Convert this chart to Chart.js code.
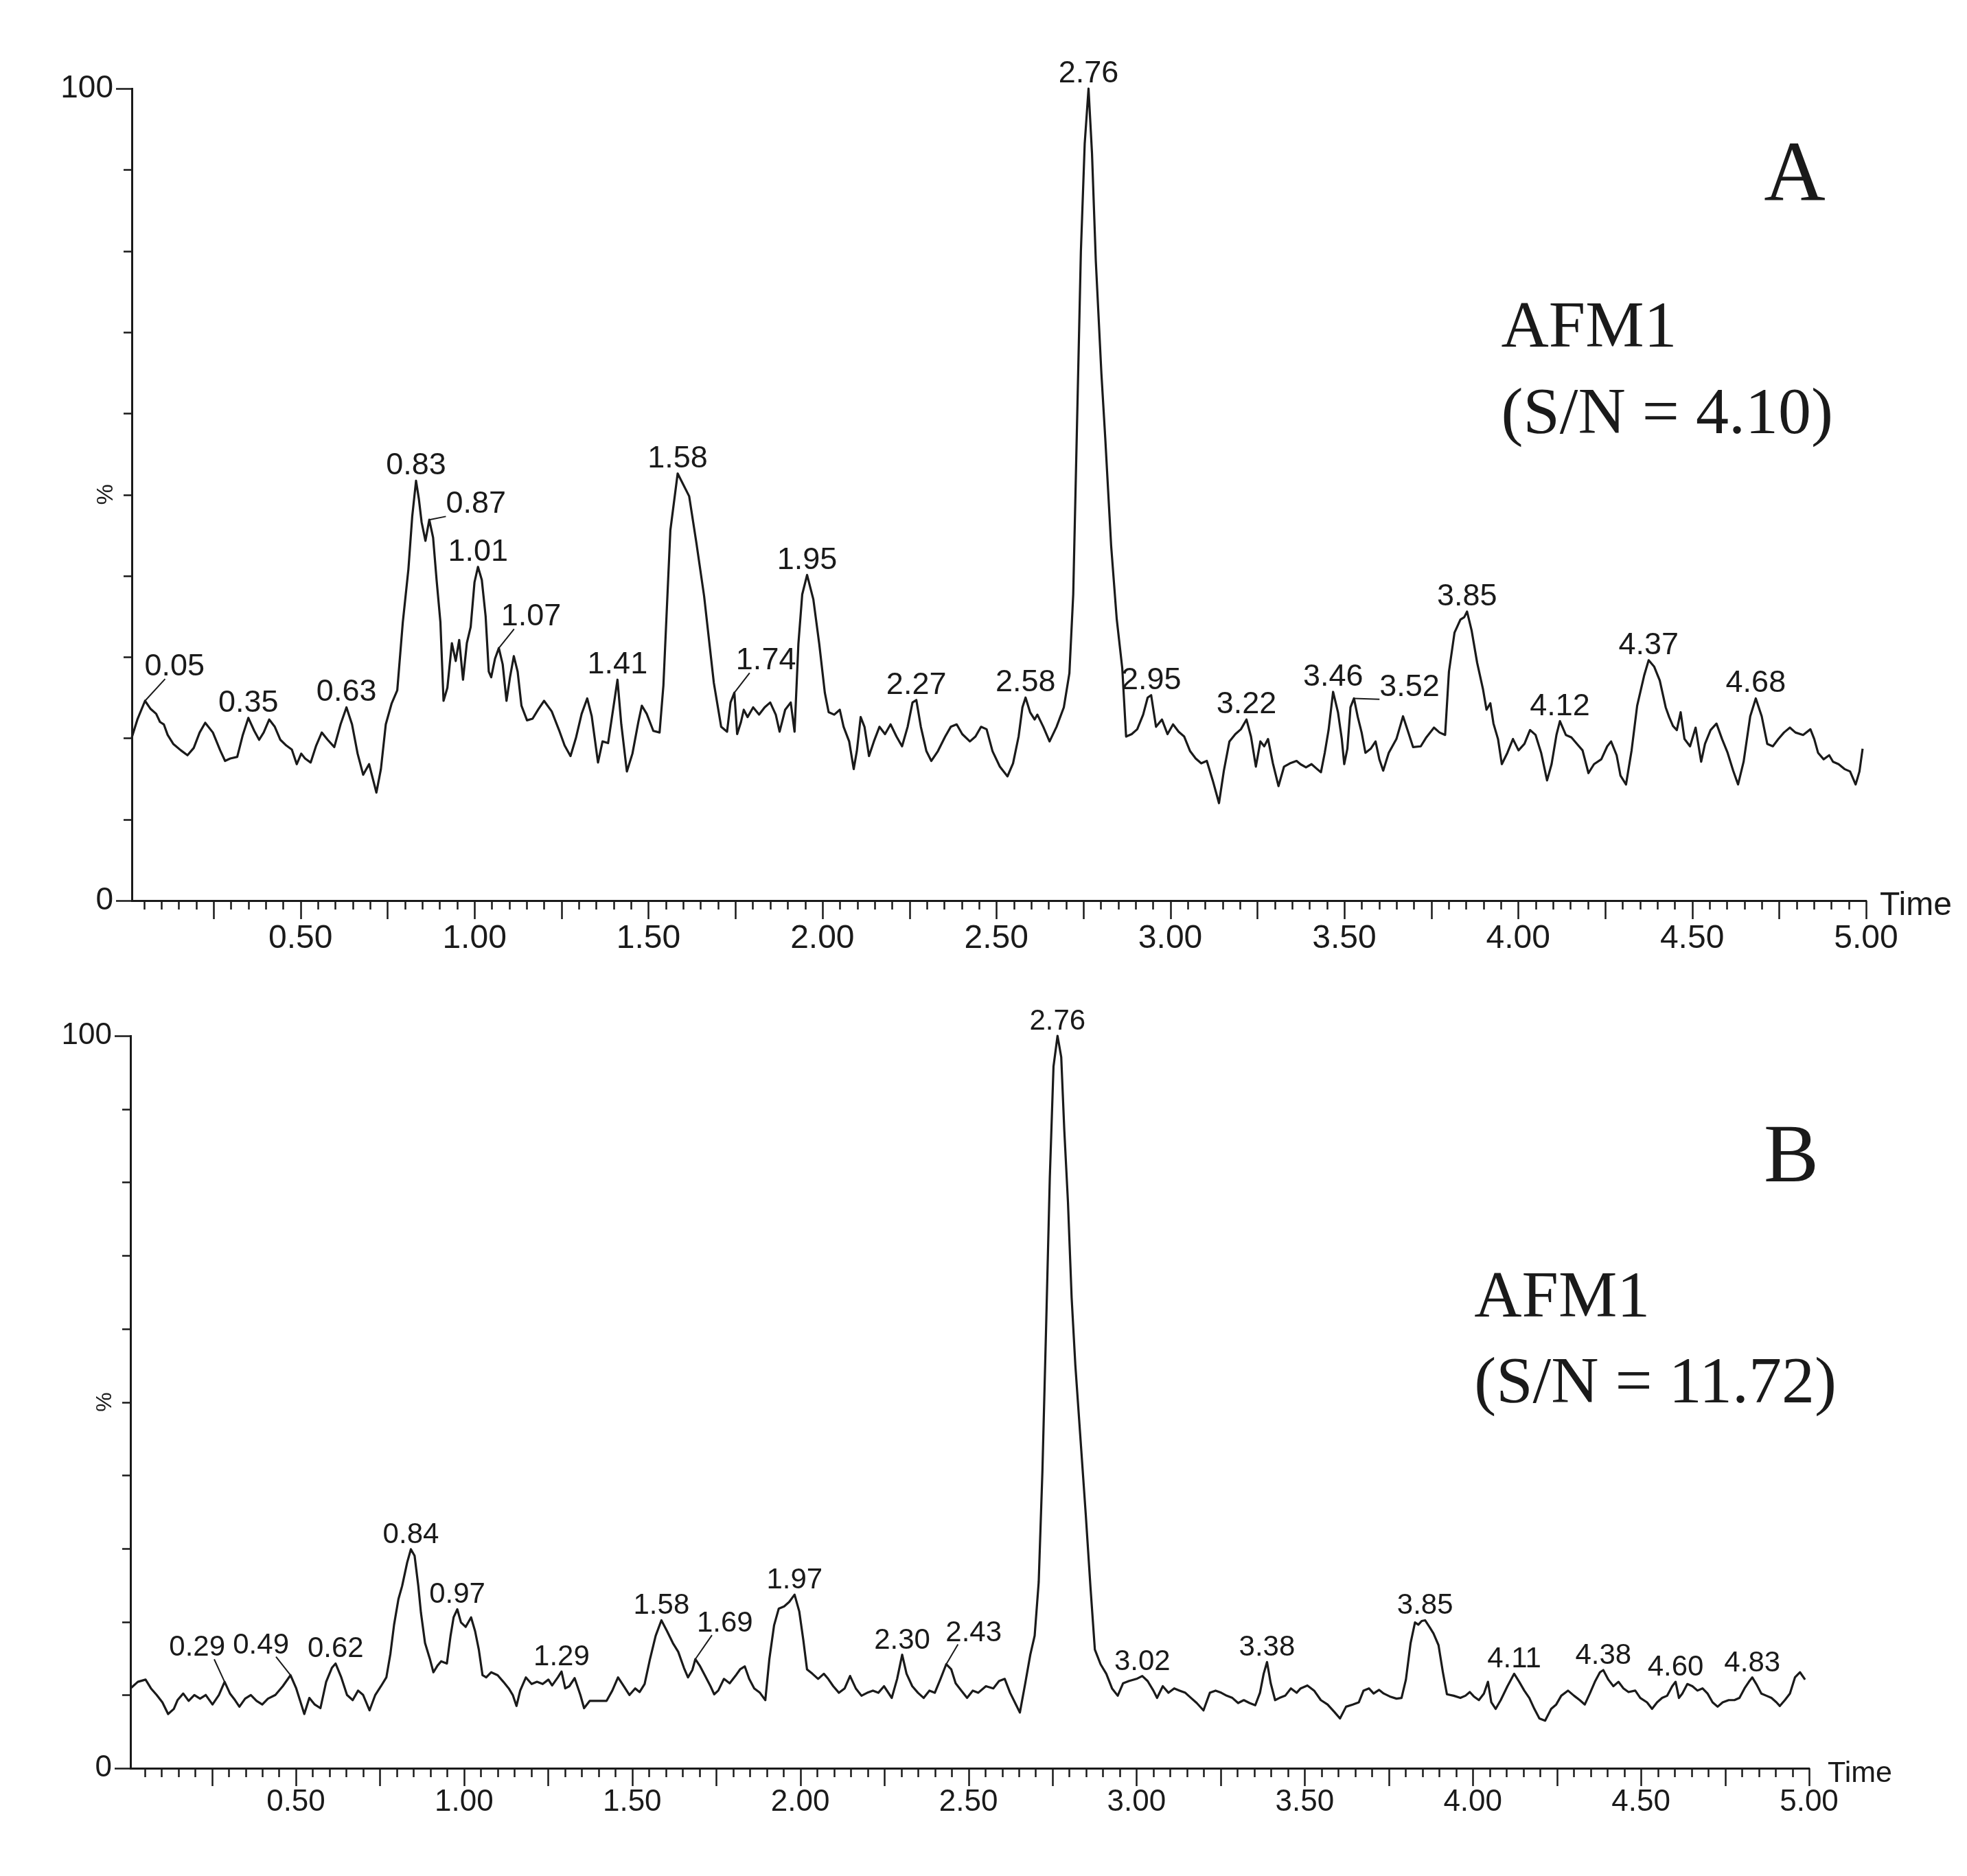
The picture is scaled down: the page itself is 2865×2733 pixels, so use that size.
<!DOCTYPE html>
<html>
<head>
<meta charset="utf-8">
<title>AFM1 chromatograms</title>
<script src="https://cdn.jsdelivr.net/npm/chart.js@4.4.1/dist/chart.umd.min.js"></script>
<style>
  html, body { margin: 0; padding: 0; background: #fff; }
  body { width: 2865px; height: 2733px; position: relative; overflow: hidden; }
  .panel { position: absolute; left: 0; width: 2865px; }
  #panelA { top: 0; height: 1400px; }
  #panelB { top: 1400px; height: 1333px; }
</style>
</head>
<body>
<div class="panel" id="panelA"><canvas id="chartA"></canvas></div>
<div class="panel" id="panelB"><canvas id="chartB"></canvas></div>
<script>
// chromatogram A (time in min, intensity in %)
const timesA = [
  0.015, 0.031, 0.053, 0.069, 0.085, 0.096, 0.107, 0.118, 0.134, 0.156, 0.175, 0.193, 0.210, 0.226, 0.248,
  0.269, 0.283, 0.298, 0.318, 0.334, 0.350, 0.367, 0.381, 0.394, 0.410, 0.426, 0.442, 0.459, 0.475, 0.489,
  0.502, 0.513, 0.529, 0.545, 0.561, 0.578, 0.597, 0.615, 0.632, 0.648, 0.664, 0.680, 0.697, 0.718, 0.731,
  0.745, 0.762, 0.778, 0.794, 0.810, 0.821, 0.832, 0.840, 0.848, 0.859, 0.870, 0.881, 0.891, 0.902, 0.911,
  0.922, 0.935, 0.946, 0.956, 0.967, 0.978, 0.989, 1.000, 1.010, 1.021, 1.032, 1.041, 1.048, 1.059, 1.070,
  1.081, 1.092, 1.102, 1.113, 1.124, 1.135, 1.151, 1.167, 1.184, 1.200, 1.222, 1.243, 1.259, 1.276, 1.292,
  1.308, 1.324, 1.337, 1.355, 1.368, 1.384, 1.400, 1.411, 1.422, 1.438, 1.454, 1.471, 1.481, 1.495, 1.514,
  1.532, 1.543, 1.563, 1.584, 1.617, 1.638, 1.660, 1.688, 1.709, 1.726, 1.736, 1.747, 1.755, 1.766, 1.774,
  1.785, 1.801, 1.818, 1.834, 1.850, 1.866, 1.877, 1.893, 1.909, 1.920, 1.931, 1.942, 1.956, 1.974, 1.991,
  2.007, 2.018, 2.034, 2.050, 2.061, 2.077, 2.090, 2.099, 2.110, 2.121, 2.134, 2.148, 2.164, 2.180, 2.196,
  2.213, 2.229, 2.245, 2.259, 2.270, 2.283, 2.299, 2.313, 2.332, 2.353, 2.369, 2.386, 2.402, 2.424, 2.440,
  2.456, 2.472, 2.489, 2.510, 2.532, 2.548, 2.564, 2.575, 2.584, 2.597, 2.610, 2.618, 2.635, 2.653, 2.673,
  2.694, 2.710, 2.721, 2.732, 2.743, 2.754, 2.765, 2.775, 2.786, 2.802, 2.813, 2.830, 2.846, 2.862, 2.873,
  2.889, 2.905, 2.922, 2.935, 2.945, 2.959, 2.976, 2.992, 3.008, 3.024, 3.040, 3.057, 3.073, 3.089, 3.105,
  3.122, 3.140, 3.154, 3.170, 3.187, 3.203, 3.219, 3.232, 3.246, 3.259, 3.270, 3.281, 3.295, 3.311, 3.327,
  3.344, 3.363, 3.374, 3.390, 3.406, 3.422, 3.433, 3.444, 3.455, 3.468, 3.482, 3.493, 3.500, 3.509, 3.518,
  3.528, 3.539, 3.550, 3.561, 3.576, 3.590, 3.601, 3.612, 3.628, 3.650, 3.669, 3.682, 3.698, 3.720, 3.736,
  3.758, 3.774, 3.790, 3.801, 3.817, 3.834, 3.845, 3.853, 3.866, 3.882, 3.899, 3.909, 3.920, 3.929, 3.942,
  3.953, 3.969, 3.985, 4.001, 4.018, 4.034, 4.050, 4.066, 4.083, 4.096, 4.110, 4.120, 4.137, 4.153, 4.169,
  4.185, 4.202, 4.218, 4.239, 4.256, 4.267, 4.283, 4.294, 4.310, 4.326, 4.342, 4.362, 4.375, 4.391, 4.407,
  4.424, 4.434, 4.445, 4.456, 4.467, 4.478, 4.494, 4.510, 4.526, 4.537, 4.553, 4.570, 4.586, 4.602, 4.618,
  4.632, 4.648, 4.667, 4.683, 4.700, 4.716, 4.732, 4.748, 4.764, 4.781, 4.797, 4.819, 4.840, 4.851, 4.862,
  4.878, 4.894, 4.905, 4.921, 4.938, 4.954, 4.970, 4.981, 4.990
];
const valuesA = [
  20.1, 22.3, 24.6, 23.6, 23.0, 22.0, 21.7, 20.4, 19.3, 18.5, 17.9, 18.8, 20.7, 21.9, 20.7,
  18.5, 17.2, 17.5, 17.7, 20.4, 22.5, 20.9, 19.8, 20.7, 22.3, 21.4, 19.8, 19.1, 18.6, 16.8,
  18.1, 17.5, 17.0, 19.1, 20.7, 19.8, 18.9, 21.7, 23.8, 21.7, 18.1, 15.5, 16.8, 13.3, 16.2,
  21.7, 24.3, 25.9, 34.3, 40.8, 47.3, 51.7, 49.5, 46.6, 44.3, 46.9, 44.7, 39.5, 34.3, 24.6,
  26.2, 31.7, 29.5, 32.1, 27.2, 31.7, 33.7, 39.2, 41.1, 39.5, 35.0, 28.2, 27.5, 29.8, 31.1,
  29.1, 24.6, 27.5, 30.1, 28.2, 24.0, 22.2, 22.4, 23.6, 24.6, 23.3, 21.0, 19.1, 17.8, 20.1,
  23.0, 24.9, 22.7, 17.0, 19.6, 19.4, 24.0, 27.2, 21.7, 15.9, 18.1, 22.0, 24.0, 23.0, 20.9,
  20.7, 26.5, 45.6, 52.6, 49.8, 44.0, 37.5, 26.8, 21.4, 20.8, 24.4, 25.6, 20.5, 22.0, 23.5,
  22.6, 23.8, 22.9, 23.8, 24.4, 22.9, 20.8, 23.5, 24.4, 20.8, 31.6, 37.7, 40.1, 37.1, 31.6,
  25.6, 23.2, 22.9, 23.5, 21.4, 19.6, 16.2, 18.4, 22.6, 21.4, 17.8, 19.6, 21.4, 20.5, 21.7,
  20.2, 19.0, 21.4, 24.4, 24.7, 21.4, 18.4, 17.2, 18.4, 20.2, 21.4, 21.7, 20.5, 19.6, 20.2,
  21.4, 21.1, 18.4, 16.5, 15.3, 16.9, 20.2, 23.8, 25.0, 23.2, 22.3, 22.9, 21.4, 19.6, 21.4,
  23.8, 28.0, 37.7, 58.8, 79.9, 93.2, 100, 92.0, 78.7, 64.9, 57.0, 43.7, 34.7, 28.6, 20.2,
  20.5, 21.1, 22.9, 25.0, 25.3, 21.4, 22.3, 20.5, 21.7, 20.8, 20.2, 18.4, 17.5, 16.9, 17.2,
  14.8, 12.0, 16.0, 19.6, 20.5, 21.1, 22.3, 20.2, 16.5, 19.6, 19.0, 19.9, 16.9, 14.1, 16.5,
  16.9, 17.2, 16.8, 16.4, 16.8, 16.2, 15.8, 18.2, 21.0, 25.7, 23.2, 19.9, 16.8, 18.7, 23.8,
  24.9, 22.6, 20.7, 18.2, 18.7, 19.6, 17.4, 16.0, 18.2, 19.9, 22.7, 21.0, 18.9, 19.0, 20.1,
  21.3, 20.7, 20.4, 28.2, 33.0, 34.6, 34.9, 35.6, 33.3, 29.3, 26.0, 23.5, 24.3, 21.8, 19.9,
  16.8, 18.2, 19.9, 18.5, 19.3, 21.0, 20.4, 18.2, 14.8, 16.8, 20.4, 22.1, 20.4, 20.1, 19.3,
  18.5, 15.7, 16.8, 17.4, 19.0, 19.6, 17.9, 15.4, 14.3, 18.5, 24.0, 27.7, 29.6, 28.8, 27.1,
  23.8, 22.6, 21.5, 21.0, 23.2, 19.9, 19.0, 21.3, 17.1, 19.3, 21.0, 21.8, 19.9, 18.2, 16.0,
  14.3, 17.1, 22.7, 24.9, 22.7, 19.3, 19.0, 19.9, 20.7, 21.3, 20.7, 20.4, 21.1, 19.9, 18.2,
  17.4, 17.9, 17.1, 16.8, 16.2, 15.9, 14.3, 15.9, 18.7
];
const peakLabelsA = [
  "0.05", "0.35", "0.63", "0.83", "0.87", "1.01", "1.07", "1.41", "1.58", "1.74", "1.95",
  "2.27", "2.58", "2.76", "2.95", "3.22", "3.46", "3.52", "3.85", "4.12", "4.37", "4.68"
];

// chromatogram B
const timesB = [
  0.008, 0.030, 0.053, 0.069, 0.086, 0.103, 0.120, 0.137, 0.148, 0.165, 0.181, 0.198, 0.215, 0.232, 0.252,
  0.271, 0.288, 0.304, 0.319, 0.332, 0.349, 0.366, 0.383, 0.400, 0.417, 0.439, 0.461, 0.484, 0.501, 0.512,
  0.525, 0.540, 0.556, 0.573, 0.590, 0.607, 0.618, 0.635, 0.652, 0.669, 0.685, 0.700, 0.719, 0.736, 0.753,
  0.769, 0.781, 0.792, 0.805, 0.816, 0.831, 0.842, 0.853, 0.864, 0.872, 0.884, 0.898, 0.909, 0.921, 0.932,
  0.949, 0.960, 0.969, 0.980, 0.991, 1.005, 1.021, 1.033, 1.044, 1.055, 1.066, 1.081, 1.100, 1.117, 1.133,
  1.145, 1.156, 1.167, 1.184, 1.201, 1.217, 1.234, 1.251, 1.262, 1.279, 1.290, 1.301, 1.313, 1.329, 1.346,
  1.357, 1.374, 1.397, 1.424, 1.441, 1.458, 1.475, 1.492, 1.509, 1.522, 1.537, 1.553, 1.570, 1.587, 1.604,
  1.621, 1.637, 1.654, 1.666, 1.679, 1.688, 1.701, 1.716, 1.733, 1.744, 1.756, 1.773, 1.790, 1.807, 1.821,
  1.835, 1.848, 1.863, 1.880, 1.896, 1.908, 1.922, 1.936, 1.952, 1.967, 1.983, 1.997, 2.009, 2.020, 2.036,
  2.053, 2.070, 2.083, 2.098, 2.115, 2.132, 2.148, 2.165, 2.182, 2.199, 2.216, 2.232, 2.249, 2.272, 2.288,
  2.303, 2.316, 2.333, 2.350, 2.367, 2.384, 2.400, 2.417, 2.434, 2.449, 2.462, 2.479, 2.496, 2.513, 2.529,
  2.552, 2.574, 2.591, 2.608, 2.624, 2.639, 2.653, 2.669, 2.684, 2.697, 2.709, 2.720, 2.731, 2.742, 2.753,
  2.765, 2.776, 2.785, 2.796, 2.807, 2.818, 2.832, 2.849, 2.863, 2.876, 2.893, 2.910, 2.927, 2.944, 2.960,
  2.977, 3.000, 3.017, 3.033, 3.050, 3.061, 3.078, 3.095, 3.112, 3.128, 3.145, 3.162, 3.179, 3.199, 3.218,
  3.235, 3.252, 3.268, 3.285, 3.302, 3.319, 3.336, 3.353, 3.367, 3.378, 3.388, 3.399, 3.412, 3.425, 3.442,
  3.459, 3.476, 3.488, 3.508, 3.528, 3.548, 3.568, 3.588, 3.605, 3.623, 3.643, 3.661, 3.675, 3.691, 3.705,
  3.721, 3.735, 3.753, 3.773, 3.788, 3.801, 3.815, 3.828, 3.838, 3.848, 3.858, 3.871, 3.883, 3.898, 3.911,
  3.923, 3.943, 3.963, 3.978, 3.991, 4.003, 4.018, 4.033, 4.045, 4.055, 4.068, 4.083, 4.103, 4.123, 4.138,
  4.153, 4.168, 4.183, 4.198, 4.215, 4.233, 4.248, 4.263, 4.283, 4.301, 4.318, 4.333, 4.348, 4.363, 4.378,
  4.388, 4.403, 4.418, 4.433, 4.448, 4.463, 4.483, 4.498, 4.518, 4.533, 4.548, 4.563, 4.578, 4.593, 4.603,
  4.613, 4.623, 4.638, 4.653, 4.668, 4.683, 4.698, 4.713, 4.728, 4.743, 4.761, 4.778, 4.793, 4.808, 4.821,
  4.831, 4.843, 4.858, 4.873, 4.888, 4.903, 4.913, 4.928, 4.943, 4.958, 4.973, 4.988
];
const valuesB = [
  10.9, 11.8, 12.1, 10.9, 10.0, 9.0, 7.4, 8.1, 9.3, 10.2, 9.2, 10.0, 9.5, 10.0, 8.7,
  10.0, 11.8, 10.2, 9.3, 8.4, 9.5, 10.0, 9.2, 8.7, 9.5, 10.0, 11.2, 12.7, 10.9, 9.3,
  7.4, 9.6, 8.7, 8.2, 11.8, 13.7, 14.3, 12.4, 10.0, 9.3, 10.6, 10.0, 7.9, 10.0, 11.2,
  12.4, 15.6, 19.6, 23.1, 24.9, 28.1, 29.9, 29.0, 24.9, 21.2, 17.1, 15.0, 13.1, 14.0, 14.6,
  14.3, 18.1, 20.6, 21.7, 19.9, 19.3, 20.6, 18.7, 16.2, 12.7, 12.4, 13.1, 12.7, 11.8, 10.9,
  10.0, 8.5, 10.6, 12.4, 11.5, 11.8, 11.5, 12.1, 11.3, 12.4, 13.2, 10.9, 11.2, 12.3, 10.0,
  8.2, 9.2, 9.2, 9.2, 10.6, 12.4, 11.2, 10.0, 10.9, 10.4, 11.5, 14.9, 18.1, 20.2, 18.7,
  17.1, 15.9, 13.7, 12.4, 13.4, 14.9, 14.0, 12.7, 11.2, 10.1, 10.6, 12.2, 11.6, 12.6, 13.5,
  13.9, 12.2, 10.9, 10.3, 9.3, 14.9, 19.5, 21.8, 22.1, 22.7, 23.7, 21.4, 17.5, 13.5, 12.9,
  12.2, 12.9, 12.2, 11.2, 10.3, 10.9, 12.6, 10.9, 9.9, 10.3, 10.6, 10.3, 11.2, 9.6, 12.2,
  15.5, 12.9, 11.2, 10.3, 9.6, 10.6, 10.3, 12.2, 14.2, 13.5, 11.6, 10.6, 9.6, 10.6, 10.3,
  11.2, 10.9, 11.9, 12.2, 10.3, 8.9, 7.6, 11.6, 15.5, 18.1, 25.4, 40.5, 60.2, 80.6, 95.8,
  100, 97.1, 87.2, 77.3, 64.2, 55.0, 45.8, 34.6, 24.7, 16.2, 14.2, 12.9, 10.9, 9.9, 11.6,
  11.9, 12.2, 12.6, 11.9, 10.6, 9.6, 11.2, 10.3, 10.9, 10.6, 10.3, 9.6, 8.9, 7.9, 10.3,
  10.6, 10.3, 9.9, 9.6, 8.9, 9.3, 8.9, 8.6, 10.3, 12.9, 14.5, 11.6, 9.3, 9.6, 9.9,
  10.9, 10.3, 10.9, 11.3, 10.6, 9.3, 8.7, 7.7, 6.8, 8.4, 8.7, 9.0, 10.6, 10.9, 10.2,
  10.7, 10.2, 9.8, 9.5, 9.6, 12.1, 17.1, 19.9, 19.6, 20.1, 20.2, 19.3, 18.4, 16.8, 13.1,
  10.1, 9.9, 9.6, 9.9, 10.4, 9.8, 9.3, 10.2, 11.8, 9.0, 8.1, 9.3, 11.2, 12.9, 11.8,
  10.6, 9.6, 8.1, 6.8, 6.5, 8.1, 8.7, 9.9, 10.6, 9.9, 9.3, 8.7, 10.2, 11.8, 13.1,
  13.4, 12.1, 11.2, 11.8, 10.9, 10.4, 10.6, 9.6, 9.0, 8.1, 9.0, 9.6, 9.9, 11.2, 11.8,
  9.6, 10.2, 11.5, 11.2, 10.6, 10.9, 10.2, 9.0, 8.4, 9.0, 9.3, 9.3, 9.6, 10.9, 11.8,
  12.4, 11.5, 10.2, 9.9, 9.6, 9.0, 8.5, 9.3, 10.2, 12.4, 13.1, 12.1
];
const peakLabelsB = [
  "0.29", "0.49", "0.62", "0.84", "0.97", "1.29", "1.58", "1.69", "1.97", "2.30",
  "2.43", "2.76", "3.02", "3.38", "3.85", "4.11", "4.38", "4.60", "4.83"
];

const INK = "#1a1a1a";
const SANS = '"Liberation Sans", Arial, sans-serif';
const SERIF = '"Liberation Serif", "Times New Roman", serif';

// labels set off from their peak with a leader line:
// [dx, dy] of text centre from the apex, and how far the line runs in under the text
const leadersA = {
  "0.05": [43, -53, 30], "0.87": [68, -26, 0], "1.07": [47, -49, 19],
  "1.74": [46, -50, 20], "3.52": [81, -20, 0],
};
const leadersB = {
  "0.29": [-40, -53, 16], "0.49": [-43, -47, 19], "1.69": [43, -55, 22], "2.43": [40, -49, 18],
};

function apexNear(data, t) {
  let best = -1;
  for (let i = 0; i < data.length; i++) {
    if (Math.abs(data[i].x - t) <= 0.015 && (best < 0 || data[i].y > data[best].y)) best = i;
  }
  return best;
}

const chromDecor = {
  id: "chromDecor",
  afterDraw(chart, args, o) {
    const { ctx } = chart;
    const xs = chart.scales.x;
    const ys = chart.scales.y;
    ctx.save();
    ctx.strokeStyle = INK;
    ctx.fillStyle = INK;

    // tick marks on the time axis: every 0.05, longer every 0.25
    ctx.lineWidth = 2.5;
    ctx.beginPath();
    for (let i = 1; i <= 100; i++) {
      const v = i * 0.05;
      if (v < xs.min) continue;
      const px = Math.round(xs.getPixelForValue(v)) + 0.5;
      const len = i % 5 === 0 ? o.xMajor : o.xMinor;
      ctx.moveTo(px, xs.top);
      ctx.lineTo(px, xs.top + len);
    }
    // tick marks on the % axis: every 10, longer at 0 and 100
    for (let v = 0; v <= 100; v += 10) {
      const py = Math.round(ys.getPixelForValue(v)) + 0.5;
      const len = v % 100 === 0 ? o.yMajor : o.yMinor;
      ctx.moveTo(ys.right, py);
      ctx.lineTo(ys.right - len, py);
    }
    ctx.stroke();

    // "Time" and "%"
    ctx.font = `${o.timeFont}px ${SANS}`;
    ctx.textAlign = "left";
    ctx.textBaseline = "middle";
    ctx.fillText("Time", xs.right + o.timeGap, xs.top + 8);

    ctx.save();
    ctx.translate(ys.right - 37, (ys.top + ys.bottom) / 2);
    ctx.rotate(-Math.PI / 2);
    ctx.textAlign = "center";
    ctx.font = `${o.pctFont}px ${SANS}`;
    ctx.fillText("%", 0, 0);
    ctx.restore();

    // peak retention time labels
    const data = chart.data.datasets[0].data;
    ctx.font = `${o.peakFont}px ${SANS}`;
    ctx.textAlign = "center";
    ctx.textBaseline = "alphabetic";
    ctx.lineWidth = 2;
    o.peaks.forEach((txt) => {
      const i = apexNear(data, parseFloat(txt));
      if (i < 0) return;
      const px = xs.getPixelForValue(data[i].x);
      const py = ys.getPixelForValue(data[i].y);
      const off = o.leaders[txt];
      if (!off) {
        ctx.fillText(txt, px, py - 9);
        return;
      }
      const cx = px + off[0];
      const base = py + off[1] + o.peakFont * 0.36;
      ctx.fillText(txt, cx, base);
      const w = ctx.measureText(txt).width;
      const ex = off[0] > 0 ? cx - w / 2 + off[2] : cx + w / 2 - off[2];
      ctx.beginPath();
      ctx.moveTo(px, py);
      ctx.lineTo(ex, base + 5);
      ctx.stroke();
    });

    // panel letter and compound note
    ctx.font = `${o.letterFont}px ${SERIF}`;
    ctx.textAlign = "center";
    ctx.fillText(o.letter, xs.getPixelForValue(o.letterAt[0]), ys.getPixelForValue(o.letterAt[1]));
    ctx.font = `${o.noteFont}px ${SERIF}`;
    ctx.textAlign = "left";
    o.note.forEach((line, k) => {
      ctx.fillText(line, xs.getPixelForValue(o.noteAt[0]), ys.getPixelForValue(o.noteAt[1 + k]));
    });
    ctx.restore();
  },
};

function drawChromatogram(canvasId, times, values, g) {
  const points = times.map((t, i) => ({ x: t, y: values[i] }));
  return new Chart(document.getElementById(canvasId), {
    type: "line",
    data: {
      datasets: [
        {
          data: points,
          borderColor: INK,
          borderWidth: 3.2,
          borderJoinStyle: "round",
          pointRadius: 0,
          tension: 0,
          fill: false,
          clip: false,
        },
      ],
    },
    options: {
      responsive: true,
      maintainAspectRatio: false,
      animation: false,
      devicePixelRatio: 1,
      layout: { padding: g.padding },
      plugins: {
        legend: { display: false },
        tooltip: { enabled: false },
        chromDecor: g.decor,
      },
      scales: {
        x: {
          type: "linear",
          min: g.xMin,
          max: 5,
          grid: { display: false, drawTicks: false },
          border: { display: true, color: INK, width: 3 },
          ticks: {
            stepSize: 0.5,
            autoSkip: false,
            maxRotation: 0,
            padding: g.xTickPad,
            color: INK,
            font: { family: SANS, size: g.xTickFont },
            callback: (v) => (Math.abs(v / 0.5 - Math.round(v / 0.5)) < 1e-6 ? v.toFixed(2) : ""),
          },
          afterFit: (scale) => { scale.height = g.xAxisHeight; },
        },
        y: {
          min: 0,
          max: 100,
          grid: { display: false, drawTicks: false },
          border: { display: true, color: INK, width: 3 },
          ticks: {
            stepSize: 100,
            padding: 27,
            color: INK,
            font: { family: SANS, size: g.yTickFont },
          },
          afterFit: (scale) => { scale.width = g.yAxisWidth; },
        },
      },
    },
    plugins: [chromDecor],
  });
}

drawChromatogram("chartA", timesA, valuesA, {
  xMin: 0.015,
  padding: { top: 129, right: 147, bottom: 0, left: 0 },
  xAxisHeight: 88,
  yAxisWidth: 192,
  xTickPad: 27,
  xTickFont: 48,
  yTickFont: 46,
  decor: {
    xMajor: 27, xMinor: 13, yMajor: 23, yMinor: 12,
    timeFont: 48, timeGap: 20, pctFont: 34,
    peakFont: 45, peaks: peakLabelsA, leaders: leadersA,
    letter: "A", letterFont: 124, letterAt: [4.795, 86.2],
    note: ["AFM1", "(S/N = 4.10)"], noteFont: 96, noteAt: [3.951, 68.2, 57.6],
  },
});

drawChromatogram("chartB", timesB, valuesB, {
  xMin: 0.008,
  padding: { top: 109, right: 230, bottom: 0, left: 0 },
  xAxisHeight: 157,
  yAxisWidth: 190,
  xTickPad: 23,
  xTickFont: 44,
  yTickFont: 44,
  decor: {
    xMajor: 26, xMinor: 13, yMajor: 23, yMinor: 12,
    timeFont: 43, timeGap: 27, pctFont: 32,
    peakFont: 42, peaks: peakLabelsB, leaders: leadersB,
    letter: "B", letterFont: 120, letterAt: [4.947, 80.1],
    note: ["AFM1", "(S/N = 11.72)"], noteFont: 96, noteAt: [4.004, 61.7, 50.0],
  },
});
</script>
</body>
</html>
